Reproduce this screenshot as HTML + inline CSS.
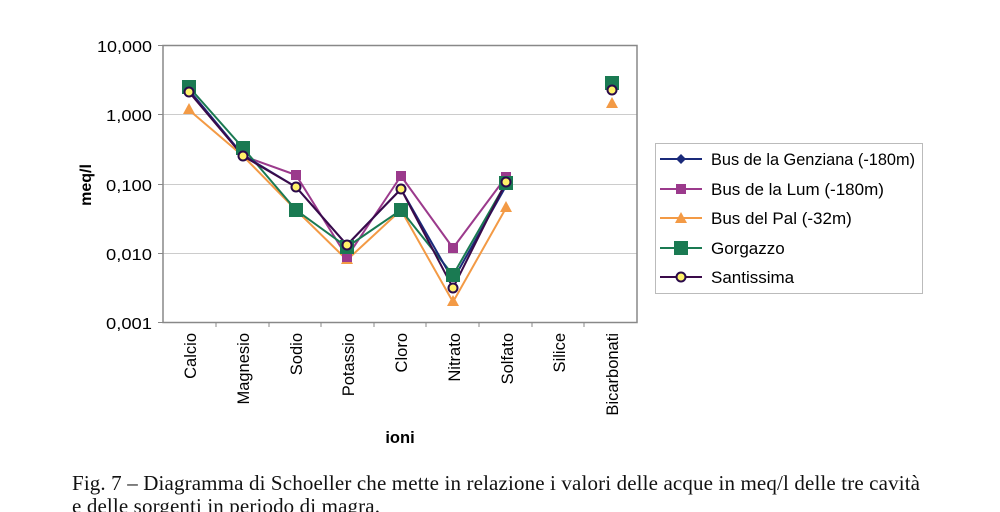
<!DOCTYPE html>
<html><head><meta charset="utf-8"><style>
html,body{margin:0;padding:0;background:#fff;width:1000px;height:512px;overflow:hidden}
svg{display:block}
</style></head><body>
<svg width="1000" height="512" viewBox="0 0 1000 512" xmlns="http://www.w3.org/2000/svg" font-family="Liberation Sans, Arial, sans-serif">
<g stroke="#ccc" stroke-width="1">
<line x1="163" y1="114.5" x2="637" y2="114.5"/><line x1="163" y1="184.5" x2="637" y2="184.5"/><line x1="163" y1="253.5" x2="637" y2="253.5"/>
</g>
<rect x="163" y="45.5" width="474" height="277" fill="none" stroke="#888" stroke-width="1.5"/>
<g stroke="#888" stroke-width="1">
<line x1="158" y1="45.5" x2="163" y2="45.5"/><line x1="158" y1="114.5" x2="163" y2="114.5"/><line x1="158" y1="184.5" x2="163" y2="184.5"/><line x1="158" y1="253.5" x2="163" y2="253.5"/><line x1="158" y1="322.5" x2="163" y2="322.5"/>
<line x1="216" y1="322" x2="216" y2="327"/><line x1="269" y1="322" x2="269" y2="327"/><line x1="321" y1="322" x2="321" y2="327"/><line x1="374" y1="322" x2="374" y2="327"/><line x1="426" y1="322" x2="426" y2="327"/><line x1="479" y1="322" x2="479" y2="327"/><line x1="532" y1="322" x2="532" y2="327"/><line x1="584" y1="322" x2="584" y2="327"/>
</g>
<g font-size="16" fill="#000">
<text x="97" y="52" textLength="55" lengthAdjust="spacingAndGlyphs">10,000</text>
<text x="106" y="121" textLength="46" lengthAdjust="spacingAndGlyphs">1,000</text>
<text x="106" y="191" textLength="46" lengthAdjust="spacingAndGlyphs">0,100</text>
<text x="106" y="260" textLength="46" lengthAdjust="spacingAndGlyphs">0,010</text>
<text x="106" y="329" textLength="46" lengthAdjust="spacingAndGlyphs">0,001</text>
</g>
<text transform="translate(91,185) rotate(-90)" font-size="16" font-weight="bold" text-anchor="middle">meq/l</text>
<g font-size="16.5" text-anchor="end">
<text transform="translate(196,333) rotate(-90)">Calcio</text>
<text transform="translate(249,333) rotate(-90)">Magnesio</text>
<text transform="translate(302,333) rotate(-90)">Sodio</text>
<text transform="translate(354,333) rotate(-90)">Potassio</text>
<text transform="translate(407,333) rotate(-90)">Cloro</text>
<text transform="translate(460,333) rotate(-90)">Nitrato</text>
<text transform="translate(513,333) rotate(-90)">Solfato</text>
<text transform="translate(565,333) rotate(-90)">Silice</text>
<text transform="translate(618,333) rotate(-90)">Bicarbonati</text>
</g>
<text x="400" y="443" font-size="16.5" font-weight="bold" text-anchor="middle">ioni</text>
<polyline points="189,110 243,156 296,210 347,260 401,210 453,302 506,208" fill="none" stroke="#f39a45" stroke-width="2"/>
<polyline points="189,90 243,156 296,175 347,257 401,176 453,248 506,177" fill="none" stroke="#9b3a8c" stroke-width="2"/>
<polyline points="189,87 243,148 296,210 347,247 401,210 453,275 506,183" fill="none" stroke="#1a7a52" stroke-width="2"/>
<polyline points="189,90 243,155 296,187 347,245 401,189 453,280 506,186" fill="none" stroke="#1a2a7a" stroke-width="2"/>
<polyline points="189,92 243,156 296,187 347,245 401,189 453,288 506,182" fill="none" stroke="#3a0a4a" stroke-width="2"/>
<g fill="#f39a45">
<polygon points="189,103 195,114 183,114"/><polygon points="347,253 353,264 341,264"/><polygon points="453,295 459,306 447,306"/><polygon points="506,201 512,212 500,212"/><polygon points="612,97 618,108 606,108"/>
</g>
<g fill="#9b3a8c">
<rect x="291" y="170" width="10" height="10"/><rect x="396" y="171" width="10" height="10"/><rect x="448" y="243" width="10" height="10"/><rect x="501" y="172" width="10" height="10"/><rect x="342" y="252" width="10" height="10"/>
</g>
<g fill="#1a7a52">
<rect x="182" y="80" width="14" height="14"/><rect x="236" y="141" width="14" height="14"/><rect x="289" y="203" width="14" height="14"/><rect x="340" y="240" width="14" height="14"/><rect x="394" y="203" width="14" height="14"/><rect x="446" y="268" width="14" height="14"/><rect x="499" y="176" width="14" height="14"/><rect x="605" y="76" width="14" height="14"/>
</g>
<g fill="#fff26a" stroke="#2a0a4a" stroke-width="2">
<circle cx="189" cy="92" r="4.5"/><circle cx="243" cy="156" r="4.5"/><circle cx="296" cy="187" r="4.5"/><circle cx="347" cy="245" r="4.5"/><circle cx="401" cy="189" r="4.5"/><circle cx="453" cy="288" r="4.5"/><circle cx="506" cy="182" r="4.5"/><circle cx="612" cy="90" r="4.5"/>
</g>
<rect x="655.5" y="143.5" width="267" height="150" fill="#fff" stroke="#bbb"/>
<g stroke-width="2">
<line x1="660" y1="159" x2="702" y2="159" stroke="#1a2a7a"/><line x1="660" y1="189" x2="702" y2="189" stroke="#9b3a8c"/><line x1="660" y1="218" x2="702" y2="218" stroke="#f39a45"/><line x1="660" y1="248" x2="702" y2="248" stroke="#1a7a52"/><line x1="660" y1="277" x2="702" y2="277" stroke="#3a0a4a"/>
</g>
<polygon points="681,154 686,159 681,164 676,159" fill="#1a2a7a"/>
<rect x="676" y="184" width="10" height="10" fill="#9b3a8c"/>
<polygon points="681,212 687,223 675,223" fill="#f39a45"/>
<rect x="674" y="241" width="14" height="14" fill="#1a7a52"/>
<circle cx="681" cy="277" r="4.5" fill="#fff26a" stroke="#2a0a4a" stroke-width="2"/>
<g font-size="17" fill="#000">
<text x="711" y="165" textLength="204" lengthAdjust="spacingAndGlyphs">Bus de la Genziana (-180m)</text>
<text x="711" y="195">Bus de la Lum (-180m)</text>
<text x="711" y="224">Bus del Pal (-32m)</text>
<text x="711" y="254">Gorgazzo</text>
<text x="711" y="283">Santissima</text>
</g>
<g font-family="Liberation Serif, serif" font-size="21" fill="#111">
<text x="72" y="490" textLength="848" lengthAdjust="spacing">Fig. 7 – Diagramma di Schoeller che mette in relazione i valori delle acque in meq/l delle tre cavità</text>
<text x="72" y="513" textLength="308" lengthAdjust="spacing">e delle sorgenti in periodo di magra.</text>
</g>
</svg>
</body></html>
